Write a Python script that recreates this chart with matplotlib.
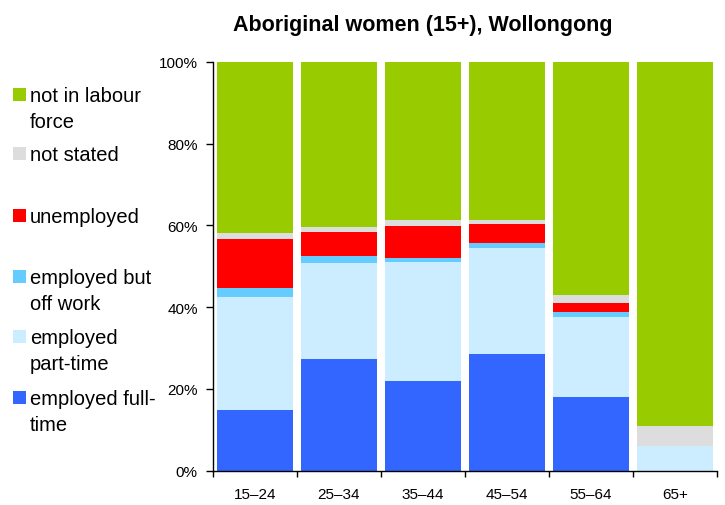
import numpy as np
import matplotlib
matplotlib.use('Agg')
import matplotlib.pyplot as plt
from matplotlib.patches import Rectangle

plt.rcParams['font.family'] = ['Liberation Sans', 'DejaVu Sans']

# Data (percent of Aboriginal women 15+, Wollongong)
age_groups = ['15–24', '25–34', '35–44', '45–54', '55–64', '65+']
full_time = [14.9, 27.3, 22.0, 28.5, 18.0, 0.0]
part_time = [27.7, 23.6, 29.1, 26.0, 19.5, 6.0]
off_work = [2.0, 1.7, 1.0, 1.1, 1.4, 0.0]
unemployed = [12.0, 5.8, 7.7, 4.8, 2.2, 0.0]
not_stated = [1.5, 1.2, 1.5, 1.0, 2.0, 4.9]
not_in_lf = [41.9, 40.4, 38.7, 38.6, 56.9, 89.1]

series = [full_time, part_time, off_work, unemployed, not_stated, not_in_lf]
colors = ['#3366FF', '#CCECFF', '#66CCFF', '#FF0000', '#DDDDDD', '#99CC00']

legend_labels = ['not in labour\nforce', 'not stated', 'unemployed',
                 'employed but\noff work', 'employed\npart-time', 'employed full-\ntime']
legend_colors = ['#99CC00', '#DDDDDD', '#FF0000', '#66CCFF', '#CCECFF', '#3366FF']
legend_y = [95, 154, 216, 277, 337, 398]  # first-line centre, pixels from top

W, H = 725, 506
fig = plt.figure(figsize=(W / 100, H / 100), dpi=100)
ax = fig.add_axes([213 / W, (H - 471.7) / H, 504 / W, 408.7 / H])

x = np.arange(len(age_groups))
bottom = np.zeros(len(age_groups))
for vals, col in zip(series, colors):
    ax.bar(x, vals, width=0.9, bottom=bottom, color=col, edgecolor='none')
    bottom += np.array(vals)

ax.set_xlim(-0.5, len(age_groups) - 0.5)
ax.set_ylim(0, 100)
ax.set_yticks(np.arange(0, 101, 20))
ax.set_yticklabels([f'{v}%' for v in range(0, 101, 20)], fontsize=11)
ax.set_xticks(x)
ax.set_xticklabels(age_groups, fontsize=11)
ax.set_xticks(np.arange(-0.5, len(age_groups)), minor=True)
ax.tick_params(axis='x', which='major', length=0, pad=12)
ax.tick_params(axis='x', which='minor', length=4, width=1, direction='out')
ax.tick_params(axis='y', length=5, width=1, direction='out', pad=6)
for s in ['top', 'right']:
    ax.spines[s].set_visible(False)
for s in ['left', 'bottom']:
    ax.spines[s].set_linewidth(1)
    ax.spines[s].set_color('black')

fig.text(423 / W, 1 - 25 / H, 'Aboriginal women (15+), Wollongong',
         ha='center', va='center', fontsize=15.5, fontweight='bold')

# Legend drawn by hand on the left
for lab, col, yc in zip(legend_labels, legend_colors, legend_y):
    fig.add_artist(Rectangle((13 / W, 1 - (yc + 6.5) / H), 13 / W, 13 / H,
                             transform=fig.transFigure, color=col, lw=0))
    fig.text(30 / W, 1 - (yc - 8) / H, lab, ha='left', va='top',
             fontsize=14.5, linespacing=1.5)

fig.savefig('out.png', dpi=100)
